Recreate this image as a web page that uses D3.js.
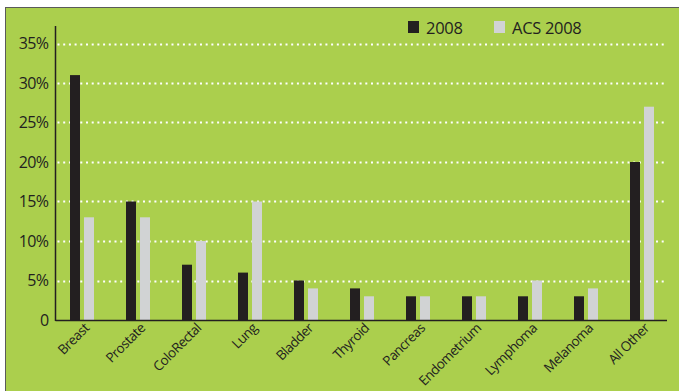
<!DOCTYPE html>
<html>
<head>
<meta charset="utf-8">
<script src="https://cdn.jsdelivr.net/npm/d3@7"></script>
<style>
  html, body { margin: 0; padding: 0; background: #ffffff; }
  svg { display: block; }
  text { font-family: "Open Sans", "Noto Sans", sans-serif; fill: #231f20; }
</style>
</head>
<body>
<svg id="chart" width="679" height="391"></svg>
<script>
// Share of cancer cases by site: 2008 vs ACS 2008 estimates (percent)
const categories = ["Breast", "Prostate", "ColoRectal", "Lung", "Bladder", "Thyroid",
                    "Pancreas", "Endometrium", "Lymphoma", "Melanoma", "All Other"];
const series = ["2008", "ACS 2008"];
const values2008 = [31, 15, 7, 6, 5, 4, 3, 3, 3, 3, 20];
const valuesACS2008 = [13, 13, 10, 15, 4, 3, 3, 3, 5, 4, 27];
const yTicks = [0, 5, 10, 15, 20, 25, 30, 35];
const yTickLabels = ["0", "5%", "10%", "15%", "20%", "25%", "30%", "35%"];
const seriesColors = ["#231f20", "#d1d3d4"];

const svg = d3.select("#chart");

// panel background with its thin frame on the top and left
svg.append("rect").attr("x", 5.5).attr("y", 7.5).attr("width", 680).attr("height", 390)
  .attr("fill", "#abcf4d").attr("stroke", "#5a5a5a").attr("stroke-width", 1);

const plot = { left: 55.5, right: 667, top: 26, bottom: 320 };

const y = d3.scaleLinear().domain([0, 35]).range([320, 43.5]);
const x = d3.scaleBand().domain(categories).range([54, 670]).padding(0);
const xs = d3.scaleBand().domain(series).range([-12, 12]).paddingInner(4 / 14).paddingOuter(0);

// dotted gridlines
svg.append("g").selectAll("line")
  .data(yTicks.filter(t => t > 0))
  .join("line")
  .attr("x1", plot.left + 2).attr("x2", plot.right)
  .attr("y1", d => Math.round(y(d)) + 0.5).attr("y2", d => Math.round(y(d)) + 0.5)
  .attr("stroke", "#ffffff").attr("stroke-width", 2)
  .attr("stroke-dasharray", "2,3.7");

// bars
const rows = categories.map((c, i) => ({ c, v: [values2008[i], valuesACS2008[i]] }));
const groups = svg.append("g").selectAll("g")
  .data(rows).join("g")
  .attr("transform", d => `translate(${x(d.c) + x.bandwidth() / 2},0)`);
groups.selectAll("rect")
  .data(d => d.v.map((v, k) => ({ s: series[k], v, k })))
  .join("rect")
  .attr("x", d => xs(d.s))
  .attr("width", xs.bandwidth())
  .attr("y", d => y(d.v))
  .attr("height", d => y(0) - y(d.v))
  .attr("fill", d => seriesColors[d.k]);

// axes lines
svg.append("line").attr("x1", plot.left).attr("x2", plot.left)
  .attr("y1", plot.top).attr("y2", plot.bottom + 1)
  .attr("stroke", "#231f20").attr("stroke-width", 1.5);
svg.append("line").attr("x1", plot.left).attr("x2", plot.right)
  .attr("y1", plot.bottom + 0.5).attr("y2", plot.bottom + 0.5)
  .attr("stroke", "#231f20").attr("stroke-width", 1.5);

// y tick labels
const yAxis = d3.axisLeft(y).tickValues(yTicks)
  .tickFormat((d, i) => yTickLabels[i]).tickSize(0).tickPadding(7);
const gy = svg.append("g").attr("transform", `translate(${plot.left},0)`).call(yAxis);
gy.select(".domain").remove();
gy.selectAll("text").attr("font-size", 16).attr("font-family", "'Open Sans', sans-serif")
  .attr("fill", "#231f20").attr("letter-spacing", -0.6);

// x category labels, rotated
const xAxis = d3.axisBottom(x).tickSize(0).tickPadding(0);
const gx = svg.append("g").attr("transform", `translate(0,${plot.bottom})`).call(xAxis);
gx.select(".domain").remove();
gx.selectAll("text")
  .attr("font-size", 13.5).attr("font-family", "'Open Sans', sans-serif")
  .attr("fill", "#231f20").attr("letter-spacing", -0.5)
  .attr("text-anchor", "end")
  .attr("dy", null).attr("y", 0)
  .attr("transform", "translate(8,9) rotate(-45)");

// legend
const legend = svg.append("g");
const legendX = [408, 494];
series.forEach((s, k) => {
  legend.append("rect").attr("x", legendX[k]).attr("y", 21).attr("width", 11).attr("height", 12)
    .attr("fill", seriesColors[k]);
  legend.append("text").attr("x", legendX[k] + 18).attr("y", 33.5)
    .attr("font-size", 16.5).attr("letter-spacing", -0.3).text(s);
});
</script>
</body>
</html>
